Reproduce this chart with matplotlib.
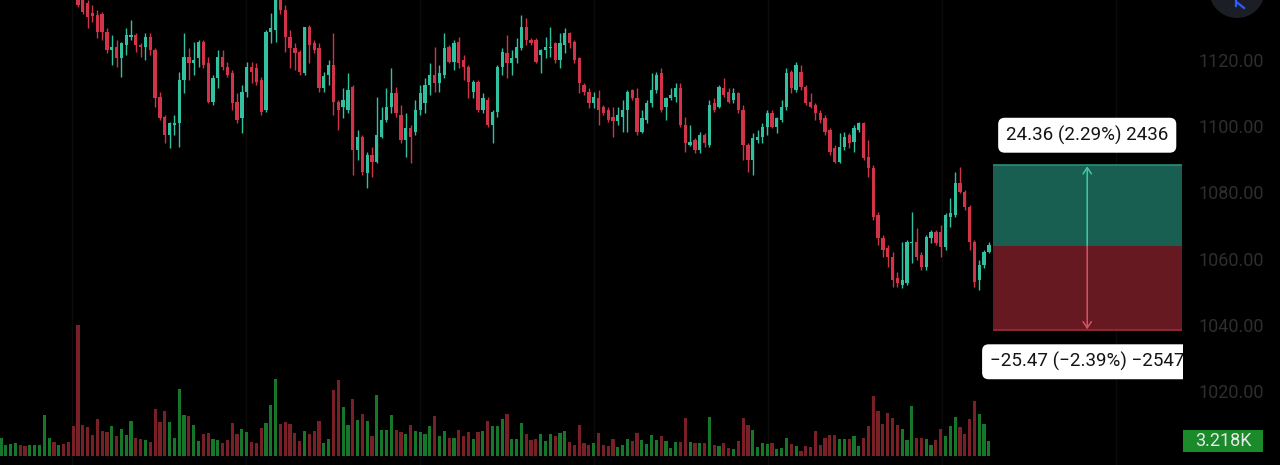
import matplotlib
matplotlib.use("Agg")
import matplotlib.pyplot as plt
import matplotlib.transforms as mtransforms
from matplotlib.patches import Rectangle, Ellipse
from matplotlib.lines import Line2D

plt.rcParams['font.family'] = ['Roboto', 'DejaVu Sans']

# ---------------- data ----------------
opens = [1146, 1149, 1151, 1153, 1154.5, 1152, 1150, 1152, 1153.5, 1155, 1160.5, 1162, 1160, 1161, 1159, 1156,
         1149, 1138.9, 1137.8, 1134.8, 1134.2, 1134.5, 1129.1, 1123.6, 1124.5, 1121.2, 1125.1, 1127.6, 1128.2, 1125.1,
         1124.5, 1127.6, 1123.6, 1109.4, 1103.4, 1098.0, 1101.0, 1101.6, 1114.6, 1121.5, 1119.7, 1121.2, 1126.0, 1119.7,
         1107.9, 1115.2, 1121.5, 1118.5, 1116.7, 1107.9, 1103.1, 1110.9, 1118.5, 1118.2, 1114.6, 1105.5, 1129.1, 1129.7,
         1139.5, 1135.7, 1127.6, 1124.2, 1123.0, 1116.7, 1130.6, 1125.7, 1124.2, 1112.1, 1116.1, 1119.1, 1107.9, 1106.4,
         1105.5, 1112.5, 1093.4, 1097.4, 1086.5, 1091.9, 1089.8, 1097.4, 1102.5, 1106.4, 1110.6, 1104.0, 1096.4, 1100.1,
         1098.9, 1105.5, 1107.6, 1113.1, 1116.1, 1113.7, 1116.1, 1124.5, 1120.0, 1126.0, 1120.6, 1118.5, 1110.9, 1114.0,
         1105.5, 1108.5, 1101.0, 1104.9, 1118.5, 1122.7, 1119.7, 1121.2, 1124.2, 1130.6, 1126.6, 1126.6, 1122.1, 1123.6,
         1124.2, 1125.7, 1120.6, 1125.1, 1128.8, 1126.0, 1121.2, 1113.1, 1110.9, 1107.6, 1109.1, 1106.4, 1105.5, 1103.4,
         1102.2, 1103.4, 1105.5, 1111.5, 1109.1, 1098.9, 1102.5, 1107.6, 1111.5, 1116.7, 1106.4, 1109.1, 1109.4, 1112.1,
         1101.0, 1094.9, 1096.4, 1093.4, 1098.0, 1094.9, 1107.6, 1106.4, 1112.1, 1110.9, 1108.5, 1110.6, 1105.5, 1094.9,
         1090.4, 1096.4, 1097.4, 1100.4, 1104.6, 1100.4, 1102.5, 1106.4, 1117.0, 1111.5, 1117.0, 1112.5, 1107.9, 1107.0,
         1104.6, 1103.1, 1099.5, 1094.0, 1089.8, 1094.3, 1098.0, 1095.8, 1099.5, 1101.6, 1091.3, 1088.0, 1073.8, 1066.8,
         1063.8, 1061.1, 1054.8, 1052.7, 1053.3, 1065.3, 1065.6, 1061.7, 1058.1, 1066.8, 1068.7, 1068.7, 1064.1, 1073.2,
         1073.8, 1083.5, 1080.7, 1076.2, 1065.6, 1054.2, 1058.7, 1062.6]
highs = [1150, 1152.5, 1154, 1156, 1155.5, 1153, 1153, 1155, 1156, 1162, 1163, 1162.5, 1162, 1161.5, 1159.5, 1156.5,
         1149.5, 1140, 1138.7, 1137.2, 1135.7, 1135.1, 1130.3, 1128.2, 1126.6, 1126.0, 1130.3, 1132.7, 1128.8, 1125.7,
         1128.8, 1128.8, 1124.2, 1110.9, 1104.0, 1101.9, 1104.0, 1117.0, 1128.8, 1124.2, 1126.0, 1126.6, 1126.6, 1121.5,
         1116.1, 1123.6, 1123.6, 1120.0, 1117.6, 1110.6, 1113.1, 1120.0, 1120.0, 1119.7, 1115.5, 1129.7, 1134.8, 1141.0,
         1140.5, 1137.2, 1129.7, 1125.7, 1123.6, 1130.6, 1131.2, 1126.6, 1125.7, 1117.0, 1120.6, 1128.8, 1108.5, 1112.1,
         1116.7, 1113.1, 1099.5, 1098.0, 1092.8, 1094.3, 1109.4, 1106.4, 1112.1, 1118.2, 1112.5, 1107.0, 1104.6, 1101.0,
         1108.5, 1113.1, 1115.2, 1119.7, 1124.5, 1119.1, 1128.8, 1125.1, 1126.6, 1127.6, 1122.1, 1119.1, 1114.6, 1114.6,
         1110.6, 1109.4, 1105.5, 1119.1, 1124.2, 1128.2, 1123.6, 1127.2, 1134.2, 1133.3, 1127.2, 1127.2, 1124.0, 1127.6,
         1130.6, 1126.0, 1128.8, 1130.3, 1129.1, 1126.6, 1121.5, 1113.7, 1112.1, 1110.9, 1111.5, 1107.0, 1106.4, 1106.4,
         1106.4, 1108.5, 1111.5, 1111.8, 1112.1, 1105.5, 1108.5, 1116.7, 1117.0, 1118.2, 1109.4, 1112.1, 1113.7, 1113.7,
         1103.4, 1101.0, 1097.0, 1098.9, 1098.6, 1108.5, 1109.1, 1113.1, 1115.2, 1112.1, 1112.1, 1110.9, 1107.0, 1095.5,
         1098.6, 1099.5, 1101.6, 1105.5, 1105.5, 1103.4, 1108.5, 1118.2, 1117.6, 1120.0, 1119.1, 1113.1, 1110.6, 1107.6,
         1105.5, 1104.0, 1100.1, 1094.9, 1098.6, 1098.9, 1098.6, 1101.0, 1101.9, 1101.9, 1096.4, 1088.9, 1074.7, 1067.8,
         1064.7, 1062.6, 1056.6, 1065.6, 1066.2, 1074.7, 1069.9, 1062.6, 1067.8, 1069.3, 1069.3, 1070.8, 1074.4, 1078.9,
         1086.8, 1088.3, 1081.3, 1076.8, 1066.2, 1060.2, 1063.2, 1065.6]
lows = [1145, 1148, 1150, 1152, 1151, 1149, 1149.5, 1151, 1152.5, 1154, 1159.5, 1159, 1159, 1158, 1155, 1148,
        1136.5, 1134.5, 1130.3, 1132.1, 1127.2, 1126.6, 1122.7, 1119.1, 1118.5, 1115.5, 1122.1, 1126.6, 1123.0, 1121.5,
        1120.6, 1122.1, 1106.4, 1102.5, 1095.5, 1094.0, 1098.0, 1094.3, 1110.6, 1114.6, 1116.1, 1118.5, 1118.2, 1107.6,
        1107.0, 1112.1, 1117.6, 1115.5, 1105.5, 1101.6, 1098.6, 1109.4, 1113.7, 1113.1, 1104.0, 1104.9, 1125.7, 1126.0,
        1134.5, 1123.0, 1118.2, 1117.6, 1116.1, 1116.1, 1119.7, 1122.7, 1110.9, 1111.0, 1113.1, 1104.0, 1099.5, 1103.1,
        1104.6, 1085.9, 1090.4, 1085.9, 1082.0, 1085.3, 1089.5, 1097.0, 1101.9, 1104.6, 1103.4, 1095.5, 1091.3, 1089.5,
        1098.0, 1104.0, 1104.6, 1110.0, 1110.9, 1110.9, 1115.2, 1119.7, 1117.6, 1118.2, 1114.6, 1109.1, 1109.1, 1104.9,
        1104.6, 1100.4, 1095.5, 1103.4, 1116.1, 1115.2, 1116.1, 1119.7, 1123.6, 1125.1, 1125.1, 1119.7, 1116.7, 1121.2,
        1121.5, 1119.7, 1118.2, 1122.7, 1124.2, 1119.7, 1110.6, 1110.0, 1106.1, 1106.1, 1101.0, 1104.0, 1101.9, 1097.4,
        1101.0, 1098.9, 1098.9, 1108.5, 1098.0, 1098.6, 1101.6, 1106.4, 1110.6, 1104.9, 1102.5, 1108.5, 1107.9, 1100.4,
        1092.8, 1094.6, 1092.5, 1092.5, 1094.3, 1094.3, 1104.9, 1106.1, 1109.4, 1107.6, 1107.6, 1104.6, 1090.4, 1086.8,
        1085.9, 1095.5, 1095.5, 1098.0, 1100.1, 1098.6, 1101.9, 1105.5, 1110.6, 1110.9, 1111.5, 1107.0, 1106.1, 1102.5,
        1101.6, 1098.0, 1091.9, 1089.5, 1089.5, 1093.4, 1094.0, 1092.8, 1098.9, 1090.4, 1085.3, 1072.3, 1064.7, 1061.1,
        1058.1, 1052.1, 1052.1, 1051.8, 1052.7, 1059.3, 1060.2, 1057.2, 1057.2, 1065.3, 1064.7, 1061.1, 1063.2, 1070.2,
        1073.2, 1080.4, 1075.3, 1063.2, 1052.1, 1051.1, 1057.8, 1062.3]
closes = [1149, 1151, 1153, 1154.5, 1152, 1150, 1152, 1153.5, 1155, 1160.5, 1162, 1160, 1161, 1159, 1156, 1149,
          1137.2, 1135.1, 1133.6, 1133.9, 1129.1, 1129.1, 1123.6, 1124.5, 1121.2, 1125.7, 1128.2, 1128.2, 1125.1, 1124.5,
          1127.6, 1123.6, 1109.1, 1103.1, 1098.0, 1101.6, 1101.6, 1114.6, 1121.5, 1119.7, 1120.6, 1126.0, 1119.1, 1107.9,
          1115.2, 1121.5, 1118.5, 1116.1, 1107.6, 1102.5, 1110.9, 1118.5, 1117.0, 1114.0, 1104.9, 1129.1, 1130.3, 1139.5,
          1135.7, 1127.6, 1124.2, 1122.7, 1117.0, 1130.6, 1125.1, 1123.6, 1112.1, 1115.8, 1119.1, 1107.9, 1105.5, 1108.5,
          1111.5, 1093.4, 1097.4, 1086.8, 1091.9, 1089.8, 1098.0, 1102.5, 1106.4, 1110.6, 1104.6, 1096.4, 1100.1, 1097.4,
          1105.5, 1110.6, 1113.1, 1116.1, 1113.7, 1116.7, 1124.2, 1120.0, 1125.7, 1119.7, 1118.5, 1114.0, 1114.0, 1105.5,
          1109.1, 1101.0, 1104.9, 1118.5, 1123.0, 1119.7, 1121.2, 1124.5, 1130.6, 1126.6, 1125.7, 1120.0, 1123.6, 1124.5,
          1124.5, 1120.6, 1125.7, 1128.8, 1125.7, 1120.6, 1113.7, 1110.9, 1107.6, 1109.4, 1105.5, 1104.6, 1102.5, 1102.2,
          1104.0, 1105.5, 1110.9, 1109.1, 1098.9, 1103.1, 1107.6, 1111.5, 1116.1, 1105.5, 1109.1, 1110.0, 1112.1, 1101.0,
          1095.5, 1095.8, 1093.4, 1098.0, 1095.5, 1107.0, 1105.5, 1112.5, 1110.0, 1107.9, 1110.6, 1105.5, 1094.9, 1090.4,
          1097.0, 1097.4, 1100.4, 1104.6, 1100.4, 1103.1, 1106.4, 1116.7, 1112.1, 1119.1, 1112.5, 1107.6, 1106.4, 1104.6,
          1102.5, 1098.9, 1092.8, 1089.8, 1094.3, 1097.4, 1095.5, 1100.1, 1101.6, 1091.0, 1088.0, 1073.2, 1066.8, 1063.2,
          1061.1, 1054.2, 1053.3, 1054.2, 1065.6, 1065.6, 1061.1, 1058.1, 1067.2, 1068.7, 1065.3, 1064.1, 1073.8, 1074.4,
          1083.5, 1080.7, 1076.2, 1065.6, 1053.6, 1058.7, 1062.6, 1064.7]
volumes_k = [3.9, 2.4, 2.6, 2.8, 2.4, 2.2, 2.4, 2.4, 2.4, 8.8, 3.9, 3.0, 2.4, 2.6, 3.0, 6.5,
             28.2, 6.7, 6.2, 4.5, 8.0, 5.4, 5.2, 6.5, 4.3, 5.8, 4.5, 7.5, 3.9, 3.7,
             3.4, 3.0, 10.1, 7.3, 9.7, 7.3, 3.9, 14.4, 8.8, 8.6, 6.7, 3.2, 4.7, 4.9,
             3.7, 3.4, 2.8, 3.4, 7.1, 4.7, 5.8, 5.2, 3.0, 2.8, 6.0, 7.1, 11.0, 16.6,
             6.9, 7.3, 6.9, 4.9, 3.2, 5.4, 4.7, 5.4, 7.5, 2.8, 3.7, 14.2, 16.3, 10.5,
             6.7, 12.3, 7.7, 9.0, 7.5, 4.3, 13.1, 5.6, 5.6, 8.8, 5.6, 5.2, 4.7, 6.7,
             5.4, 5.2, 4.7, 6.5, 8.6, 4.3, 5.4, 3.9, 3.9, 5.6, 4.3, 5.2, 3.7, 5.2,
             5.4, 7.5, 6.5, 6.5, 8.0, 9.0, 3.7, 3.7, 7.1, 4.7, 3.4, 3.7, 4.7, 3.2,
             4.7, 4.3, 4.9, 5.4, 3.0, 2.4, 6.7, 2.8, 2.4, 2.8, 4.9, 2.4, 2.2, 3.7,
             1.9, 2.4, 3.7, 3.2, 4.9, 3.4, 2.6, 4.5, 3.4, 4.3, 3.2, 1.7, 3.0, 3.0,
             8.2, 3.0, 2.8, 2.8, 2.8, 8.4, 2.4, 2.2, 2.8, 1.7, 1.5, 3.2, 8.2, 6.7,
             5.6, 1.9, 2.8, 2.6, 2.8, 1.5, 1.7, 3.9, 2.6, 2.2, 1.1, 2.2, 1.9, 5.4,
             2.4, 3.9, 4.5, 4.5, 3.7, 3.7, 3.7, 4.3, 2.2, 3.9, 6.5, 12.9, 9.7, 6.9,
             9.2, 8.2, 6.7, 5.8, 3.4, 10.8, 3.9, 3.9, 3.7, 2.4, 3.4, 5.8, 4.3, 6.5,
             8.4, 6.2, 4.7, 8.0, 11.8, 9.0, 6.9, 3.218]
price_ticks = [1020, 1040, 1060, 1080, 1100, 1120]

entry_price = 1064.45
target_pts = 24.36
stop_pts = 25.47
quantity = 100
pos_start, pos_end = 205.8, 245.0   # bar-index span of the position tool

# ---------------- style ----------------
UP, DOWN = '#31c0a0', '#d13349'
VUP, VDOWN = '#16762a', '#782026'
BG = '#000000'
XMIN, XMAX = -0.19, 265.4
YMIN, YMAX = 998.3, 1138.7

fig = plt.figure(figsize=(12.8, 4.65), dpi=100, facecolor=BG)

# volume panel (underneath)
vax = fig.add_axes([0, 0, 1, 1])
vax.set_facecolor(BG)
vax.set_xlim(XMIN, XMAX)
vax.set_ylim(-1.94, 98.0)
vax.axis('off')
grid_x = [14.75 + 36.1 * k for k in range(8)]
for gx in grid_x:
    vax.axvline(gx, color='#0b0b0b', lw=1, zorder=0)

n = len(closes)
idx = list(range(n))
vcols = [VUP if closes[i] >= opens[i] else VDOWN for i in idx]
vax.bar(idx, volumes_k, width=0.66, color=vcols, zorder=2)

# price panel
ax = fig.add_axes([0, 0, 1, 1])
ax.set_facecolor('none')
ax.set_xlim(XMIN, XMAX)
ax.set_ylim(YMIN, YMAX)
ax.axis('off')

cols = [UP if closes[i] >= opens[i] else DOWN for i in idx]
ax.vlines(idx, lows, highs, colors=cols, lw=1.0, zorder=3)
bottoms = [min(o, c) for o, c in zip(opens, closes)]
heights = [max(abs(c - o), 0.35) for o, c in zip(opens, closes)]
ax.bar(idx, heights, bottom=bottoms, width=0.68, color=cols, zorder=4)

# price labels on the right
blend = mtransforms.blended_transform_factory(ax.transAxes, ax.transData)
for p in price_ticks:
    ax.text(1264 / 1280, p, f"{p:.2f}", transform=blend, ha='right', va='center',
            color='#2e2e2e', fontsize=13)

# last volume label
vblend = mtransforms.blended_transform_factory(vax.transAxes, vax.transData)
last_v = volumes_k[-1]
vax.add_patch(Rectangle((1183 / 1280, last_v - 2.37), 80 / 1280, 4.74,
                        transform=vblend, facecolor='#1a8a2b', edgecolor='none', zorder=5))
vax.text(1223 / 1280, last_v, f"{last_v:.3f}K", transform=vblend, ha='center', va='center',
         color='#e8e8e8', fontsize=13, zorder=6)

# position tool (clipped at its own right edge)
frac = 1183 / 1280
pax = fig.add_axes([0, 0, frac, 1])
pax.set_facecolor('none')
pax.set_xlim(XMIN, XMIN + (XMAX - XMIN) * frac)
pax.set_ylim(YMIN, YMAX)
pax.axis('off')

target = entry_price + target_pts
stop = entry_price - stop_pts
pax.add_patch(Rectangle((pos_start, entry_price), pos_end - pos_start, target - entry_price,
                        facecolor='#185f51', edgecolor='none', zorder=2))
pax.add_patch(Rectangle((pos_start, stop), pos_end - pos_start, entry_price - stop,
                        facecolor='#661921', edgecolor='none', zorder=2))
pax.hlines(target, pos_start, pos_end, colors='#2a8f74', lw=1.2, zorder=3)
pax.hlines(stop, pos_start, pos_end, colors='#a42a38', lw=1.2, zorder=3)
x_mid = (pos_start + pos_end) / 2
pax.annotate('', xy=(x_mid, target - 0.3), xytext=(x_mid, entry_price),
             arrowprops=dict(arrowstyle='->,head_length=0.45,head_width=0.3', color='#3ccaa6',
                             lw=1.1, shrinkA=0, shrinkB=0), zorder=4)
pax.annotate('', xy=(x_mid, stop + 0.3), xytext=(x_mid, entry_price),
             arrowprops=dict(arrowstyle='->,head_length=0.45,head_width=0.3', color='#d65262',
                             lw=1.1, shrinkA=0, shrinkB=0), zorder=4)

MINUS = '\u2212'
up_label = f"{target_pts:.2f} ({target_pts / entry_price * 100:.2f}%) {round(target_pts * quantity)}"
dn_label = (f"{MINUS}{stop_pts:.2f} ({MINUS}{stop_pts / entry_price * 100:.2f}%) "
            f"{MINUS}{round(stop_pts * quantity)}")
box = dict(boxstyle='round,pad=0.42,rounding_size=0.35', fc='white', ec='none')
pax.annotate(up_label, xy=(x_mid, target), xytext=(0, 30), textcoords='offset pixels',
             ha='center', va='center', fontsize=13.5, color='#141414', bbox=box,
             clip_on=True, zorder=6)
pax.annotate(dn_label, xy=(x_mid, stop), xytext=(0, -31.5), textcoords='offset pixels',
             ha='center', va='center', fontsize=13.5, color='#141414', bbox=box,
             clip_on=True, zorder=6)

# partially visible round button in the top-right corner (icon drawn as lines)
fig.patches.append(Ellipse((1237 / 1280, 1 + 10 / 465), 56 / 1280, 56 / 465,
                           transform=fig.transFigure, facecolor='#1b1e25', edgecolor='none'))
fig.lines.append(Line2D([1236 / 1280, 1236 / 1280], [1.0, 1 - 6 / 465],
                        transform=fig.transFigure, color='#2f5bff', lw=1.6))
fig.lines.append(Line2D([1236.5 / 1280, 1244 / 1280], [1 - 2 / 465, 1 - 8 / 465],
                        transform=fig.transFigure, color='#2f5bff', lw=1.6))

fig.savefig('out.png', dpi=100, facecolor=BG)
